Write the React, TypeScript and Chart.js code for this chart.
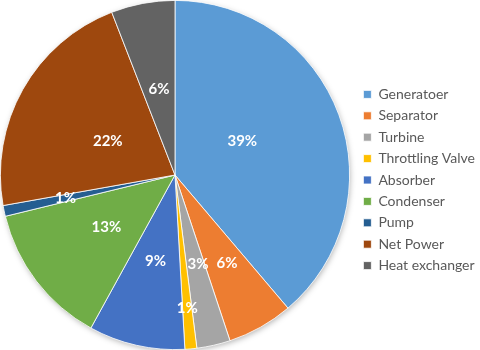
import React, { useEffect, useRef } from "react";
import { Chart, registerables } from "chart.js";

Chart.register(...registerables);

const categories = [
  "Generatoer",
  "Separator",
  "Turbine",
  "Throttling Valve",
  "Absorber",
  "Condenser",
  "Pump",
  "Net Power",
  "Heat exchanger",
];
const values = [38.8, 6.1, 3.1, 1.1, 8.9, 13.2, 1.0, 21.9, 5.9];
const colors = [
  "#5B9BD5",
  "#ED7D31",
  "#A5A5A5",
  "#FFC000",
  "#4472C4",
  "#70AD47",
  "#255E91",
  "#9E480E",
  "#636363",
];
// label placement style: fraction of radius, and angular nudge in degrees
const labelRadius = [0.432, 0.587, 0.528, 0.767, 0.506, 0.495, 0.641, 0.432, 0.498];
const labelAngleShift = [-6.7, -1.2, -1.7, 0, 0, 0, 0, -2.3, 0];

const shadowPlugin = {
  id: "pieShadow",
  beforeDatasetsDraw(chart: any) {
    const meta = chart.getDatasetMeta(0);
    const arc = meta.data[0];
    if (!arc) return;
    const { x, y, outerRadius } = arc.getProps(["x", "y", "outerRadius"], true);
    const ctx = chart.ctx;
    ctx.save();
    ctx.shadowColor = "rgba(0,0,0,0.35)";
    ctx.shadowBlur = 6;
    ctx.shadowOffsetX = 1;
    ctx.shadowOffsetY = 2;
    ctx.fillStyle = "#ffffff";
    ctx.beginPath();
    ctx.arc(x, y, outerRadius - 1, 0, Math.PI * 2);
    ctx.fill();
    ctx.restore();
  },
};

const labelPlugin = {
  id: "pctLabels",
  afterDatasetsDraw(chart: any) {
    const meta = chart.getDatasetMeta(0);
    const data = chart.data.datasets[0].data as number[];
    const total = data.reduce((a, b) => a + b, 0);
    const ctx = chart.ctx;
    ctx.save();
    ctx.fillStyle = "#ffffff";
    ctx.font = "bold 15px Lato, 'Open Sans', sans-serif";
    ctx.textAlign = "center";
    ctx.textBaseline = "middle";
    meta.data.forEach((arc: any, i: number) => {
      const { x, y, startAngle, endAngle, outerRadius } = arc.getProps(
        ["x", "y", "startAngle", "endAngle", "outerRadius"],
        true
      );
      const mid = (startAngle + endAngle) / 2 + (labelAngleShift[i] * Math.PI) / 180;
      const r = outerRadius * labelRadius[i];
      const pct = Math.round((data[i] / total) * 100) + "%";
      ctx.fillText(pct, x + Math.cos(mid) * r, y + Math.sin(mid) * r);
    });
    ctx.restore();
  },
};

export default function App() {
  const canvasRef = useRef<HTMLCanvasElement | null>(null);

  useEffect(() => {
    document.body.style.margin = "0";
    const canvas = canvasRef.current;
    if (!canvas) return;
    const chart = new Chart(canvas, {
      type: "pie",
      data: {
        labels: categories,
        datasets: [
          {
            data: values,
            backgroundColor: colors,
            borderColor: "#ffffff",
            borderWidth: 0.8,
          },
        ],
      },
      options: {
        animation: false,
        responsive: false,
        maintainAspectRatio: false,
        layout: { padding: { top: 0, bottom: 0, left: 0, right: -5 } },
        plugins: {
          tooltip: { enabled: false },
          legend: {
            position: "right",
            title: { display: true, text: " ", font: { size: 1 }, padding: 4.4 },
            labels: {
              boxWidth: 8,
              boxHeight: 8,
              padding: 7.4,
              color: "#595959",
              font: { size: 14, family: "Lato, 'Open Sans', sans-serif" },
            },
          },
        },
      },
      plugins: [shadowPlugin, labelPlugin],
    });
    return () => chart.destroy();
  }, []);

  return (
    <div style={{ width: 480, height: 350, background: "#ffffff", overflow: "hidden" }}>
      <canvas
        ref={canvasRef}
        width={486}
        height={350}
        style={{ display: "block", marginLeft: -6 }}
      />
    </div>
  );
}
